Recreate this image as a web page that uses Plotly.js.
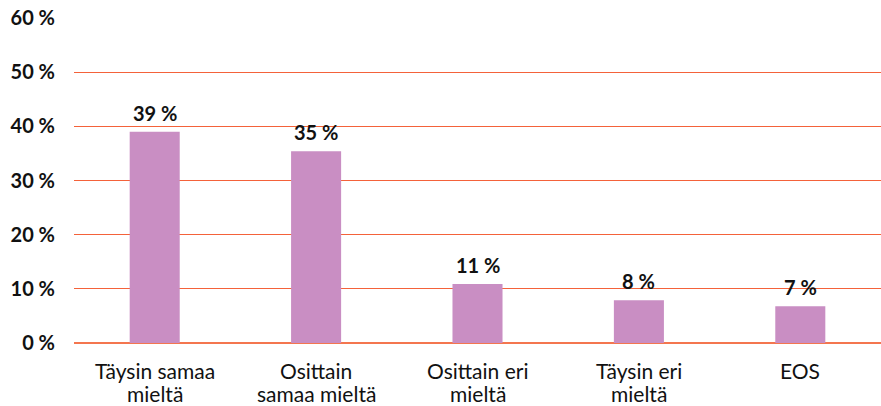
<!DOCTYPE html>
<html>
<head>
<meta charset="utf-8">
<script src="https://cdn.plot.ly/plotly-3.0.1.min.js"></script>
<style>html,body{margin:0;padding:0;background:#fff;}#chart{width:881px;height:406px;}</style>
</head>
<body>
<div id="chart"></div>
<script>
const categories = ["Täysin samaa mieltä", "Osittain samaa mieltä", "Osittain eri mieltä", "Täysin eri mieltä", "EOS"];
const categoryLines = [["Täysin samaa", "mieltä"], ["Osittain", "samaa mieltä"], ["Osittain eri", "mieltä"], ["Täysin eri", "mieltä"], ["EOS"]];
const values = [39, 35.4, 10.9, 7.9, 6.8];
const labels = ["39 %", "35 %", "11 %", "8 %", "7 %"];
const yTicks = [0, 10, 20, 30, 40, 50, 60];

const trace = {
  type: "bar",
  x: categories,
  y: values,
  marker: {color: "#C98EC3"},
  hoverinfo: "none"
};

const annotations = categories.map((c, i) => ({
  x: c, y: values[i], xref: "x", yref: "y",
  text: labels[i], showarrow: false,
  yanchor: "bottom", yshift: 5,
  font: {family: "Lato", size: 20, color: "#111", weight: "bold"}
}));

categories.forEach((c, i) => {
  categoryLines[i].forEach((line, j) => {
    annotations.push({
      x: c, y: 0, xref: "x", yref: "y",
      text: line, showarrow: false,
      yanchor: "middle", yshift: -27 - 23 * j,
      font: {family: "Lato", size: 21, color: "#111"}
    });
  });
});

const layout = {
  width: 881, height: 406,
  margin: {l: 74, r: 0, t: 18, b: 63},
  paper_bgcolor: "#fff", plot_bgcolor: "#fff",
  bargap: 0.69,
  showlegend: false,
  font: {family: "Lato", color: "#111"},
  annotations: annotations,
  xaxis: {
    showticklabels: false,
    showgrid: false, showline: false, ticks: "", automargin: false
  },
  yaxis: {
    range: [0, 60],
    tickvals: yTicks,
    ticktext: yTicks.map(v => v + " %"),
    tickfont: {family: "Lato", size: 20, color: "#111", weight: "bold"},
    showgrid: true, gridcolor: "#F4623A", gridwidth: 1,
    zeroline: true, zerolinecolor: "#F4764F", zerolinewidth: 2,
    showline: false, ticks: "", ticklabelstandoff: 18, automargin: false
  }
};

Plotly.newPlot("chart", [trace], layout, {displayModeBar: false, staticPlot: true});
</script>
</body>
</html>
